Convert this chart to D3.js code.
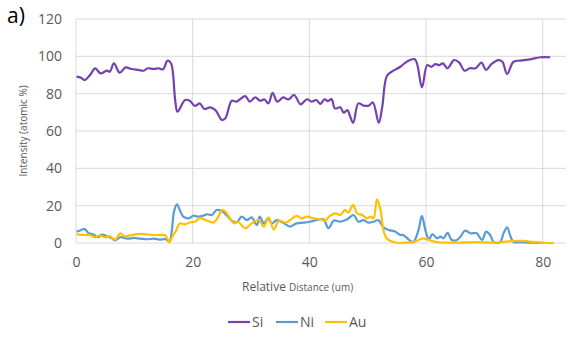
<!DOCTYPE html>
<html>
<head>
<meta charset="utf-8">
<script src="https://cdn.jsdelivr.net/npm/d3@7"></script>
<style>
  body { margin: 0; background: #fff; }
  svg { display: block; font-family: 'Open Sans', sans-serif; }
</style>
</head>
<body>
<div id="chart"></div>
<script>
// [distance (um), intensity (atomic %)]
const siPoints = [[0.1,89.1],[0.8,88.6],[1.5,87.3],[2.4,90],[3.3,93.5],[4.2,90.9],[5.3,92.3],[5.8,91.8],[6.5,96.2],[7.5,91.2],[8.5,94.1],[9.5,93.2],[10.7,92.7],[11.6,92.3],[12.3,93.6],[13.3,93.2],[14.2,93.6],[14.9,93],[15.7,97.7],[16.3,96.2],[17.0,76.6],[17.4,70.3],[18.7,76.6],[19.5,76.2],[20.4,73.4],[21.2,74.8],[22.0,71.8],[23.0,72.7],[23.9,71.2],[25.0,65.9],[25.6,66.8],[26.7,76.2],[27.5,75.7],[29.0,78.7],[29.8,75.7],[30.7,78],[31.6,76.2],[32.3,76.9],[33.0,74.8],[33.7,80.5],[34.5,75.7],[35.5,78],[36.4,76.9],[37.4,79.3],[38.5,74.3],[39.6,77],[40.4,75.7],[41.2,76.6],[41.9,74.5],[42.6,77],[43.2,76],[43.8,77.1],[44.4,72.1],[45.3,72.7],[45.9,69.8],[46.5,71.2],[47.5,64.4],[48.4,74.8],[49.3,73.6],[50.2,73.6],[50.9,75.3],[51.9,64.4],[52.5,73],[53.3,89.5],[54.4,92.3],[55.6,94.4],[56.7,97.1],[58.1,98.4],[59.3,83.4],[60.2,95.3],[60.9,94.4],[61.6,95.8],[62.3,95.3],[62.9,96.2],[63.7,93.6],[64.8,98],[65.7,96.6],[66.6,92.3],[67.5,93.6],[68.5,93.6],[69.5,96.6],[70.3,92.7],[71.2,95.8],[72.4,98],[73.1,97.1],[73.9,90.5],[75.0,97.1],[76.2,97.7],[77.9,98.4],[79.6,99.5],[81.3,99.5]];

const niPoints = [[0.1,6],[0.9,7],[1.5,7.5],[2.1,5.4],[3,4.5],[3.8,3.1],[4.4,4.5],[5.3,3.6],[6.1,2.7],[6.7,1.4],[7.6,3.1],[8.8,2.3],[9.9,2.7],[11,2.3],[12.2,2],[13.3,2.3],[14.4,1.8],[15.3,2.1],[16,0.8],[16.4,6],[16.8,16.8],[17.3,20.7],[17.8,17.6],[18.4,14.1],[19.3,13.2],[20.1,14.6],[21,14.1],[21.8,14.6],[22.5,15.4],[23.3,15],[24.1,17.7],[25,17.1],[25.9,14.6],[26.7,12],[27.5,11],[28.4,14.1],[29.3,12.3],[30.1,13.7],[31,9.6],[31.5,14.1],[32.2,10.5],[32.9,13.2],[33.6,10.5],[34.4,12.3],[35.5,10.9],[36.7,8.8],[37.8,10.5],[39,10.9],[40.1,11.4],[41.3,12.3],[42.4,12.7],[43.3,7.9],[44.2,12],[45.3,11.4],[46.5,12.7],[47.6,15],[48.4,11.4],[49.3,12.3],[50.1,10.9],[51,11.4],[51.8,12.3],[52.7,8.4],[53.6,7],[54.7,6.1],[55.6,4.3],[56.1,4.3],[57,1.9],[57.8,0.5],[58.7,6.8],[59.3,14.5],[59.9,6.8],[60.5,1.9],[61.1,4.8],[61.9,2.5],[62.5,3.4],[63,2.5],[63.7,5.5],[64.4,1.6],[65.3,1.6],[65.9,3.4],[66.7,6.6],[67.6,5.2],[68.7,5.2],[69.6,1.6],[70.3,6.1],[71,4.3],[71.6,0.5],[72.7,0.5],[73.3,5.2],[73.9,8.4],[74.5,3.4],[75,0.5],[76.2,0.5],[77.9,0.2],[80.2,0],[81.3,0]];

const auPoints = [[0.1,4.6],[1.5,4.3],[2.4,4.3],[3.2,3],[4.1,4.1],[5,3],[5.8,3.6],[6.7,1.8],[7.6,5.2],[8.3,3.6],[9.3,4.1],[10.5,4.8],[11.6,4.8],[13,4.3],[14.4,4.3],[15.3,4.1],[16,0.3],[16.4,2.7],[17.2,7],[17.8,10.5],[18.7,10],[19.5,11],[20.4,11.4],[21.3,13.5],[21.8,12.8],[22.7,11.8],[23.6,11],[24.4,14.1],[25,17.7],[25.6,16.8],[26.4,13.2],[27.1,10.5],[27.8,11.4],[29,7.9],[30.1,10.5],[31.3,12.3],[32.2,8.8],[33,13.7],[33.9,7.3],[34.8,12],[35.9,10.9],[36.7,12.3],[37.8,14.5],[38.7,13.2],[39.6,14.1],[40.7,13.2],[41.9,12.7],[42.7,12],[43.5,14.5],[44.5,15.9],[45.3,15],[46.1,17.7],[46.7,16.3],[47.5,20.4],[48.2,15.9],[49.1,15],[49.9,13.2],[50.5,14.1],[51,13.2],[51.6,23.4],[52.2,17.7],[52.7,7],[53.3,2.3],[54.4,0.5],[55.6,0],[56.1,0.2],[57.8,0.5],[58.9,1.9],[59.5,2.5],[60.5,1.6],[61.9,0.5],[65.3,0.2],[68.7,0.5],[72.1,0.2],[74.5,1],[76.7,1.1],[78.5,0.5],[80.8,0],[81.9,0]];

const seriesNames = ['Si', 'Ni', 'Au'];
const seriesColors = ['#7442b0', '#5b9bd5', '#ffc000'];
const xTicks = [0, 20, 40, 60, 80];
const yTicks = [0, 20, 40, 60, 80, 100, 120];

const width = 570;
const height = 339;
const margin = { top: 19, right: 4, bottom: 96, left: 76 };

const svg = d3.select('#chart')
  .append('svg')
  .attr('width', width)
  .attr('height', height);

const x = d3.scaleLinear()
  .domain([0, 84])
  .range([margin.left, width - margin.right]);

const y = d3.scaleLinear()
  .domain([0, 120])
  .range([height - margin.bottom, margin.top]);

// gridlines
svg.append('g')
  .selectAll('line')
  .data(yTicks)
  .join('line')
  .attr('x1', x.range()[0])
  .attr('x2', x.range()[1])
  .attr('y1', (d) => y(d))
  .attr('y2', (d) => y(d))
  .attr('stroke', '#d9d9d9')
  .attr('stroke-width', 1);

svg.append('g')
  .selectAll('line')
  .data(xTicks)
  .join('line')
  .attr('x1', (d) => x(d))
  .attr('x2', (d) => x(d))
  .attr('y1', y(0))
  .attr('y2', y(120))
  .attr('stroke', '#d9d9d9')
  .attr('stroke-width', 1);

// axes (labels only, Excel style)
const yAxis = svg.append('g')
  .attr('transform', `translate(${margin.left - 14},0)`)
  .call(d3.axisLeft(y).tickValues(yTicks).tickSize(0).tickPadding(0));
yAxis.select('.domain').remove();
yAxis.selectAll('text')
  .attr('font-size', 14)
  .attr('font-family', 'Open Sans, sans-serif')
  .attr('fill', '#595959');

const xAxis = svg.append('g')
  .attr('transform', `translate(0,${y(0) + 14})`)
  .call(d3.axisBottom(x).tickValues(xTicks).tickSize(0).tickPadding(0));
xAxis.select('.domain').remove();
xAxis.selectAll('text')
  .attr('font-size', 14)
  .attr('font-family', 'Open Sans, sans-serif')
  .attr('fill', '#595959');

// series, smoothed like the spreadsheet lines
const line = d3.line()
  .x((d) => x(d[0]))
  .y((d) => y(d[1]))
  .curve(d3.curveCatmullRom.alpha(0.5));

const series = [siPoints, niPoints, auPoints];

svg.append('g')
  .selectAll('path')
  .data(series)
  .join('path')
  .attr('fill', 'none')
  .attr('stroke', (d, i) => seriesColors[i])
  .attr('stroke-width', 2.2)
  .attr('stroke-linejoin', 'round')
  .attr('d', line);

// titles
svg.append('text')
  .attr('x', 7)
  .attr('y', 23)
  .attr('font-size', 21)
  .attr('fill', '#000')
  .text('a)');

svg.append('text')
  .attr('transform', `translate(27,${(y(0) + y(120)) / 2}) rotate(-90)`)
  .attr('text-anchor', 'middle')
  .attr('font-size', 10)
  .attr('fill', '#595959')
  .text('Intensity (atomic %)');

const xt = svg.append('text')
  .attr('x', 242)
  .attr('y', 291)
  .attr('fill', '#595959');
xt.append('tspan').attr('font-size', 12).text('Relative ');
xt.append('tspan').attr('font-size', 10).text('Distance (um)');

// legend
const legendX = [228, 276, 325];
const legend = svg.append('g')
  .selectAll('g')
  .data(seriesNames)
  .join('g')
  .attr('transform', (d, i) => `translate(${legendX[i]},322)`);

legend.append('line')
  .attr('x1', 0)
  .attr('x2', 22)
  .attr('stroke', (d, i) => seriesColors[i])
  .attr('stroke-width', 2.2);

legend.append('text')
  .attr('x', 24)
  .attr('y', 5)
  .attr('font-size', 14)
  .attr('fill', '#595959')
  .text((d) => d);
</script>
</body>
</html>
